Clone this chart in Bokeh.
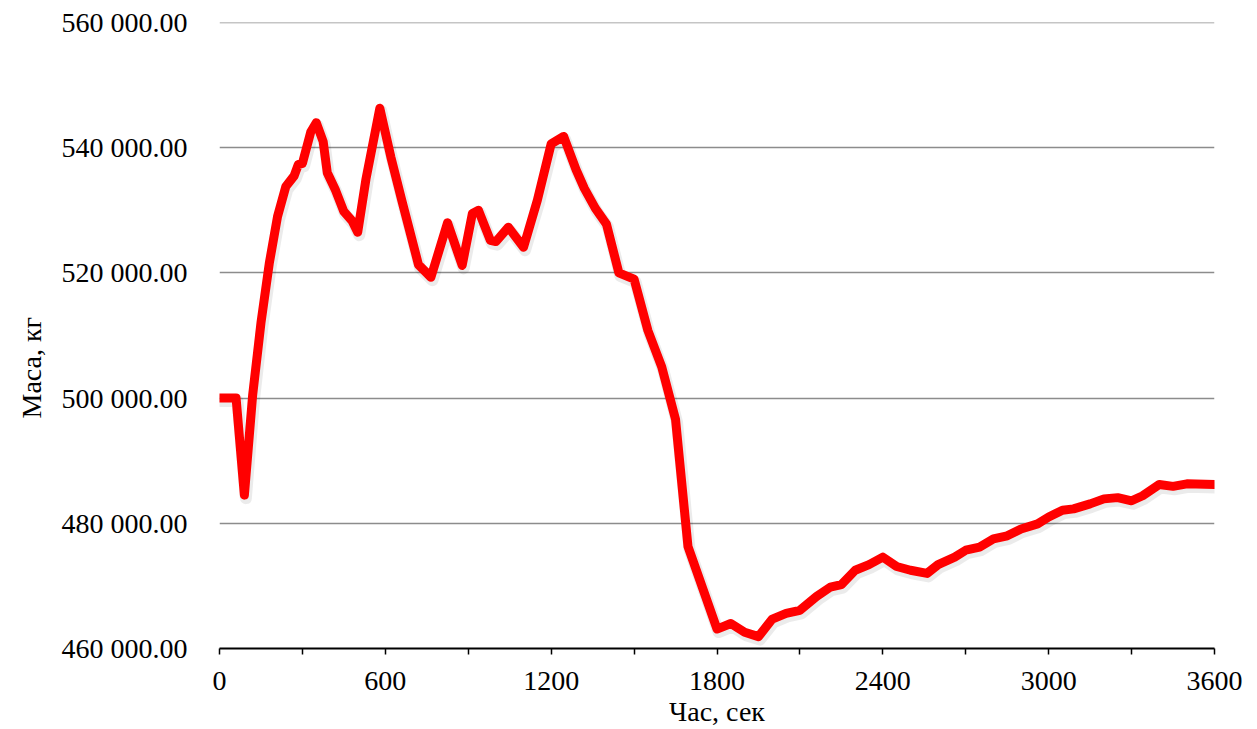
from bokeh.plotting import figure
from bokeh.models import FixedTicker, ColumnDataSource, Span, Title
from bokeh.embed import file_html
from bokeh.resources import INLINE

# ---- data ----
time_s = [0, 30, 60, 90, 120, 150, 180, 210, 240, 270, 285, 300, 330, 350, 375, 390,
          420, 450, 480, 500, 530, 580, 620, 660, 720, 765, 825, 878, 915, 937, 980,
          1000, 1045, 1100, 1150, 1200, 1245, 1290, 1320, 1360, 1400, 1445, 1500,
          1550, 1600, 1650, 1695, 1800, 1850, 1900, 1950, 2000, 2050, 2100, 2160,
          2210, 2250, 2300, 2350, 2400, 2450, 2500, 2560, 2600, 2660, 2700, 2750,
          2800, 2850, 2900, 2960, 3000, 3050, 3090, 3150, 3200, 3250, 3300, 3340,
          3400, 3450, 3500, 3600]
mass_kg = [500000, 500000, 500000, 484500, 500500, 512000, 521500, 529000, 533800,
           535500, 537300, 537500, 542500, 544000, 541000, 536000, 533200, 529800,
           528300, 526500, 535000, 546300, 538500, 531500, 521300, 519300, 528000,
           521200, 529500, 530000, 525200, 525000, 527300, 524100, 531600, 540600,
           541800, 536500, 533500, 530300, 527800, 520000, 519000, 510800, 505000,
           496600, 476300, 463100, 464000, 462600, 461900, 464700, 465600, 466100,
           468300, 469800, 470200, 472500, 473400, 474600, 473100, 472500, 472000,
           473400, 474600, 475700, 476200, 477500, 478000, 479100, 479900, 481000,
           482100, 482300, 483100, 483900, 484100, 483600, 484400, 486200, 485900,
           486300, 486200]

x_major_ticks = [0, 600, 1200, 1800, 2400, 3000, 3600]
x_minor_ticks = [300, 900, 1500, 2100, 2700, 3300]
y_ticks = [460000, 480000, 500000, 520000, 540000, 560000]
y_tick_labels = ["460 000.00", "480 000.00", "500 000.00", "520 000.00",
                 "540 000.00", "560 000.00"]
x_title = "Час, сек"
y_title = "Маса, кг"

FONT = "Liberation Serif"
GRID = "#8c8c8c"

p = figure(width=1250, height=729, output_backend="svg", toolbar_location=None,
           x_range=(0, 3600), y_range=(460000, 560000),
           min_border_left=219, min_border_right=36, min_border_top=22,
           min_border_bottom=81)
p.outline_line_color = None
p.background_fill_color = "white"
p.border_fill_color = "white"

# grid
p.xgrid.grid_line_color = None
p.ygrid.grid_line_color = GRID
p.ygrid.grid_line_width = 1.6
p.add_layout(Span(location=y_ticks[-1], dimension="width", line_color=GRID,
                  line_width=1.6))

# x axis
xa = p.xaxis[0]
xa.ticker = FixedTicker(ticks=x_major_ticks, minor_ticks=x_minor_ticks)
xa.axis_line_color = "black"
xa.axis_line_width = 2
xa.major_tick_in = 0
xa.major_tick_out = 6
xa.minor_tick_in = 0
xa.minor_tick_out = 6
xa.major_tick_line_color = "black"
xa.minor_tick_line_color = "black"
xa.major_tick_line_width = 1.5
xa.minor_tick_line_width = 1.5
xa.major_label_text_font = FONT
xa.major_label_text_font_size = "28px"
xa.major_label_text_color = "black"
xa.major_label_standoff = 17
xa.axis_label = x_title
xa.axis_label_text_font = FONT
xa.axis_label_text_font_size = "28px"
xa.axis_label_text_font_style = "normal"
xa.axis_label_text_color = "black"
xa.axis_label_standoff = 3

# y axis
ya = p.yaxis[0]
ya.ticker = FixedTicker(ticks=y_ticks, minor_ticks=[])
ya.major_label_overrides = {t: s for t, s in zip(y_ticks, y_tick_labels)}
ya.axis_line_color = None
ya.major_tick_line_color = None
ya.minor_tick_line_color = None
ya.major_label_text_font = FONT
ya.major_label_text_font_size = "28px"
ya.major_label_text_color = "black"
ya.major_label_standoff = 26

# y title as a side title so it can be nudged like the reference
p.add_layout(Title(text=y_title, align="left", offset=230, standoff=24,
                   text_font=FONT, text_font_size="28px", text_font_style="normal",
                   text_color="black"), "left")

# soft shadow under the line (offset ~1.5px right, ~3px down)
dx = 1.5 * 3600 / 995
dy = 3 * 100000 / 626
shadow = ColumnDataSource(dict(x=[t + dx for t in time_s], y=[m - dy for m in mass_kg]))
p.line("x", "y", source=shadow, line_color="black", line_alpha=0.08, line_width=12,
       line_join="round", line_cap="round")

src = ColumnDataSource(dict(x=time_s, y=mass_kg))
p.line("x", "y", source=src, line_color="#ff0000", line_width=9,
       line_join="round", line_cap="round")

open("out.html", "w").write(file_html(p, INLINE))
